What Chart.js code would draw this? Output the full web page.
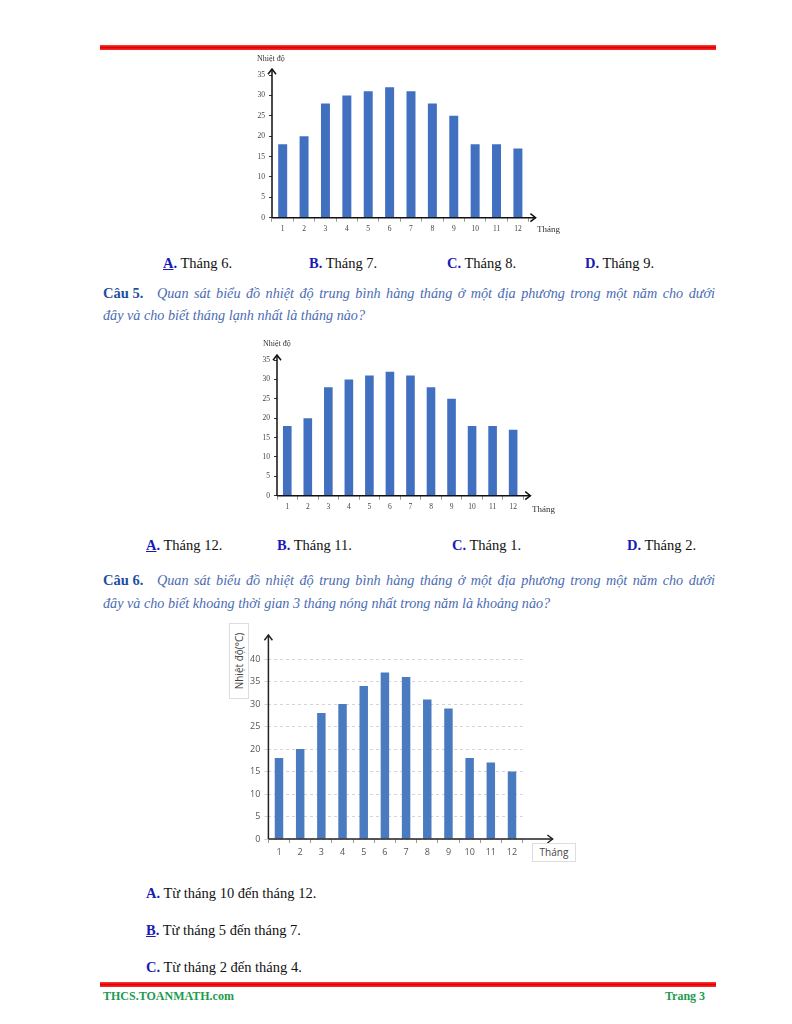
<!DOCTYPE html>
<html>
<head>
<meta charset="utf-8">
<script src="https://cdn.jsdelivr.net/npm/chart.js@4"></script>
<style>
  html, body { margin:0; padding:0; background:#fff; }
  body { width:792px; height:1024px; position:relative; overflow:hidden; font-family:"Liberation Serif","Times New Roman",serif; }
  .t { position:absolute; white-space:nowrap; font-size:14.5px; line-height:16px; color:#111; }
  .lt { color:#1a1ab8; font-weight:bold; }
  .u { text-decoration:underline; }
  .q { position:absolute; font-size:14.2px; line-height:16px; color:#4a6cb3; font-style:italic; white-space:nowrap; }
  .cau { position:absolute; color:#1f4f9f; font-weight:bold; font-size:14.5px; line-height:16px; white-space:nowrap; }
  .rule { position:absolute; left:100px; width:616px; height:5px; background:linear-gradient(#ff4040,#e00000 50%,#ff3030); }
  canvas { position:absolute; }
  .small { position:absolute; white-space:nowrap; color:#333; }
</style>
</head>
<body>
<div class="rule" style="top:45px"></div>

<canvas id="c1" width="320" height="190" style="left:240px;top:50px;width:320px;height:190px"></canvas>
<div class="small" style="left:257px;top:54px;font-size:8px;line-height:9px;">Nhiệt độ</div>
<div class="small" style="left:537px;top:224px;font-size:9px;line-height:10px;">Tháng</div>

<div class="t" style="left:163px;top:255px"><span class="lt u">A</span><span class="lt">.</span> Tháng 6.</div>
<div class="t" style="left:309px;top:255px"><span class="lt">B.</span> Tháng 7.</div>
<div class="t" style="left:447px;top:255px"><span class="lt">C.</span> Tháng 8.</div>
<div class="t" style="left:585px;top:255px"><span class="lt">D.</span> Tháng 9.</div>

<div class="cau" style="left:103px;top:285px">Câu 5.</div>
<div class="q" style="left:157px;top:285px;width:558px;text-align:justify;text-align-last:justify;">Quan sát biểu đồ nhiệt độ trung bình hàng tháng ở một địa phương trong một năm cho dưới</div>
<div class="q" style="left:103px;top:307px">đây và cho biết tháng lạnh nhất là tháng nào?</div>

<canvas id="c2" width="320" height="180" style="left:240px;top:335px;width:320px;height:180px"></canvas>
<div class="small" style="left:263px;top:339px;font-size:8px;line-height:9px;">Nhiệt độ</div>
<div class="small" style="left:532px;top:504px;font-size:9px;line-height:10px;">Tháng</div>

<div class="t" style="left:146px;top:537px"><span class="lt u">A</span><span class="lt">.</span> Tháng 12.</div>
<div class="t" style="left:277px;top:537px"><span class="lt">B.</span> Tháng 11.</div>
<div class="t" style="left:452px;top:537px"><span class="lt">C.</span> Tháng 1.</div>
<div class="t" style="left:627px;top:537px"><span class="lt">D.</span> Tháng 2.</div>

<div class="cau" style="left:103px;top:572px">Câu 6.</div>
<div class="q" style="left:157px;top:572px;width:558px;text-align:justify;text-align-last:justify;">Quan sát biểu đồ nhiệt độ trung bình hàng tháng ở một địa phương trong một năm cho dưới</div>
<div class="q" style="left:103px;top:595px">đây và cho biết khoảng thời gian 3 tháng nóng nhất trong năm là khoảng nào?</div>

<canvas id="c3" width="340" height="240" style="left:225px;top:625px;width:340px;height:240px"></canvas>
<div style="position:absolute;left:229px;top:623px;width:18px;height:74px;border:1px solid #ddd;background:#fff;">
  <div style="position:absolute;left:50%;top:50%;transform:translate(-50%,-50%) rotate(-90deg);white-space:nowrap;font-family:'Open Sans','DejaVu Sans',sans-serif;font-size:10px;color:#444;">Nhiệt độ(°C)</div>
</div>
<div style="position:absolute;left:532px;top:843px;width:42px;height:17px;border:1px solid #ddd;background:#fff;font-family:'Open Sans','DejaVu Sans',sans-serif;font-size:10px;line-height:17px;color:#444;text-align:center;">Tháng</div>

<div class="t" style="left:146px;top:885px"><span class="lt">A.</span> Từ tháng 10 đến tháng 12.</div>
<div class="t" style="left:146px;top:922px"><span class="lt u">B</span><span class="lt">.</span> Từ tháng 5 đến tháng 7.</div>
<div class="t" style="left:146px;top:959px"><span class="lt">C.</span> Từ tháng 2 đến tháng 4.</div>

<div class="rule" style="top:982px"></div>
<div class="t" style="left:103px;top:990px;font-size:12px;line-height:13px;color:#1e9a50;font-weight:bold;">THCS.TOANMATH.com</div>
<div class="t" style="left:665px;top:990px;font-size:12px;line-height:13px;color:#1e9a50;font-weight:bold;">Trang 3</div>

<script>
// ---- data ----
const months = ['1','2','3','4','5','6','7','8','9','10','11','12'];
const tempQ4 = [18, 20, 28, 30, 31, 32, 31, 28, 25, 18, 18, 17];
const tempQ5 = [18, 20, 28, 30, 31, 32, 31, 28, 25, 18, 18, 17];
const tempQ6 = [18, 20, 28, 30, 34, 37, 36, 31, 29, 18, 17, 15];
const yMaxQ45 = 35;
const yMaxQ6 = 40;
const yStep = 5;

const arrowPlugin = {
  id: 'axisArrows',
  afterDraw(chart, args, opts) {
    const ctx = chart.ctx, a = chart.chartArea;
    ctx.save();
    ctx.setLineDash([]);
    ctx.strokeStyle = opts.color || '#000';
    ctx.lineWidth = opts.width || 1.5;
    const tipY = a.top - opts.extTop;
    const tipX = a.right + opts.extRight;
    ctx.beginPath();
    ctx.moveTo(a.left, a.bottom); ctx.lineTo(a.left, tipY);
    ctx.moveTo(a.left, a.bottom); ctx.lineTo(tipX, a.bottom);
    ctx.stroke();
    const h = opts.head || 4;
    ctx.beginPath();
    ctx.moveTo(a.left - h, tipY + h * 1.3); ctx.lineTo(a.left, tipY); ctx.lineTo(a.left + h, tipY + h * 1.3);
    ctx.moveTo(tipX - h * 1.3, a.bottom - h); ctx.lineTo(tipX, a.bottom); ctx.lineTo(tipX - h * 1.3, a.bottom + h);
    ctx.stroke();
    ctx.restore();
  }
};

function makeChart(id, values, yMax, cfg) {
  return new Chart(document.getElementById(id), {
    type: 'bar',
    data: {
      labels: months,
      datasets: [{
        data: values,
        backgroundColor: cfg.barColor,
        borderWidth: 0,
        barPercentage: cfg.barPct,
        categoryPercentage: 1
      }]
    },
    options: {
      responsive: false,
      animation: false,
      devicePixelRatio: 1,
      layout: { padding: { top: cfg.padTop, right: cfg.padRight, left: 0, bottom: 0 } },
      plugins: {
        legend: { display: false },
        tooltip: { enabled: false },
        axisArrows: { extTop: cfg.extTop, extRight: cfg.extRight, color: cfg.axisColor, width: 1.5, head: 4 }
      },
      scales: {
        x: {
          offset: true,
          grid: { display: true, offset: true, drawOnChartArea: false, drawTicks: true, tickLength: 4, color: '#999' },
          border: { display: false },
          ticks: { font: { family: cfg.font, size: cfg.fontSize }, color: cfg.tickColor, padding: cfg.xPad, maxRotation: 0, autoSkip: false },
          afterFit(s) { s.height = cfg.xH; }
        },
        y: {
          min: 0, max: yMax,
          ticks: { stepSize: yStep, font: { family: cfg.font, size: cfg.fontSize }, color: cfg.tickColor, padding: cfg.yPad },
          grid: cfg.yGrid,
          border: { display: false, dash: cfg.yDash },
          afterFit(s) { s.width = cfg.yW; }
        }
      }
    },
    plugins: [arrowPlugin]
  });
}

makeChart('c1', tempQ4, yMaxQ45, {
  barColor: '#4270c0', barPct: 0.42, padTop: 25, padRight: 31.4, extTop: 6, extRight: 7,
  axisColor: '#111', font: 'Liberation Serif', fontSize: 7.5, tickColor: '#444', xPad: 3, yPad: 4,
  xH: 22.3, yW: 32, yDash: [],
  yGrid: { display: true, drawOnChartArea: false, drawTicks: true, tickLength: 3, color: '#333' }
});

makeChart('c2', tempQ5, yMaxQ45, {
  barColor: '#4270c0', barPct: 0.42, padTop: 25, padRight: 36.6, extTop: 5, extRight: 7,
  axisColor: '#111', font: 'Liberation Serif', fontSize: 7.5, tickColor: '#444', xPad: 3, yPad: 4,
  xH: 19.3, yW: 37, yDash: [],
  yGrid: { display: true, drawOnChartArea: false, drawTicks: true, tickLength: 3, color: '#333' }
});

makeChart('c3', tempQ6, yMaxQ6, {
  barColor: '#4a7bc0', barPct: 0.4, padTop: 34, padRight: 42.4, extTop: 24, extRight: 30,
  axisColor: '#222', font: 'Open Sans', fontSize: 9, tickColor: '#555', xPad: 4, yPad: 4,
  xH: 26, yW: 43.4, yDash: [3, 3],
  yGrid: { display: true, drawOnChartArea: true, drawTicks: true, tickLength: 4, color: '#d4d4d4' }
});
</script>
</body>
</html>
